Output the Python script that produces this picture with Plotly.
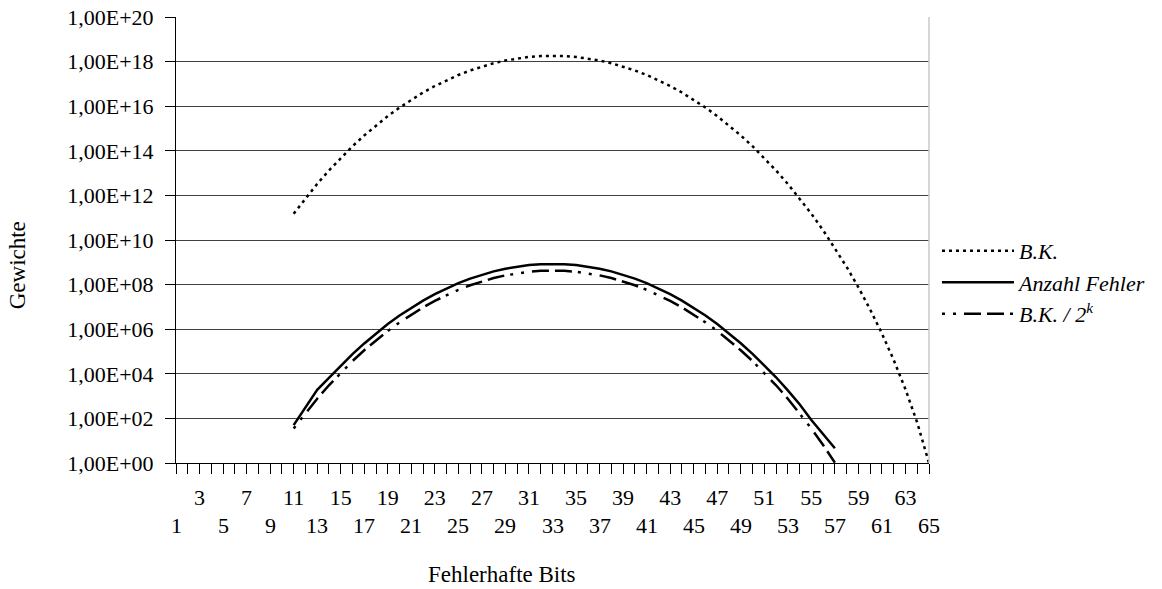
import plotly.graph_objects as go

# ---- data ----
x_bk = list(range(11, 66))
bk = [1.51e11, 7.44e11, 3.28e12, 1.31e13, 4.79e13, 1.60e14, 4.89e14, 1.38e15,
      3.60e15, 8.72e15, 1.96e16, 4.11e16, 8.03e16, 1.47e17, 2.51e17, 4.01e17,
      6.02e17, 8.47e17, 1.12e18, 1.39e18, 1.62e18, 1.78e18, 1.83e18, 1.78e18,
      1.62e18, 1.39e18, 1.12e18, 8.47e17, 6.02e17, 4.01e17, 2.51e17, 1.47e17,
      8.03e16, 4.11e16, 1.96e16, 8.72e15, 3.60e15, 1.38e15, 4.89e14, 1.60e14,
      4.79e13, 1.31e13, 3.28e12, 7.44e11, 1.51e11, 2.75e10, 4.43e9, 6.21e8,
      7.50e7, 7.62e6, 6.35e5, 4.17e4, 2016, 64, 1]

x_err = list(range(11, 58))
anzahl = [50, 320, 1900, 6500, 23000, 76000, 2.3e5, 6.5e5, 1.7e6, 4.1e6,
          9.2e6, 1.9e7, 3.7e7, 6.8e7, 1.16e8, 1.86e8, 2.78e8, 3.92e8, 5.18e8,
          6.43e8, 7.5e8, 8.22e8, 8.47e8, 8.22e8, 7.5e8, 6.43e8, 5.18e8, 3.92e8,
          2.78e8, 1.86e8, 1.16e8, 6.8e7, 3.7e7, 1.9e7, 9.2e6, 4.1e6, 1.7e6,
          6.5e5, 2.35e5, 7.8e4, 2.4e4, 7000, 1800, 430, 85, 20, 4.6]

bk_2k = [35.3, 173, 765, 3059, 11142, 37141, 1.14e5, 3.21e5, 8.39e5, 2.03e6,
         4.57e6, 9.57e6, 1.87e7, 3.42e7, 5.84e7, 9.34e7, 1.40e8, 1.97e8,
         2.60e8, 3.23e8, 3.77e8, 4.14e8, 4.27e8, 4.14e8, 3.77e8, 3.23e8,
         2.60e8, 1.97e8, 1.40e8, 9.34e7, 5.84e7, 3.42e7, 1.87e7, 9.57e6,
         4.57e6, 2.03e6, 8.39e5, 3.21e5, 1.14e5, 37141, 11142, 3059, 765,
         173, 35.3, 6.41, 1.03]

categories = list(range(1, 66))
upper_labels = [c for c in categories if c % 4 == 3]   # 3, 7, 11, ... 63
lower_labels = [c for c in categories if c % 4 == 1]   # 1, 5, 9, ... 65

y_exponents = [0, 2, 4, 6, 8, 10, 12, 14, 16, 18, 20]
y_tickvals = [10.0 ** e for e in y_exponents]
y_ticktext = ["1,00E+%02d" % e for e in y_exponents]

x_ticktext = [str(c) if c in upper_labels else " " for c in categories]

FONT = "Liberation Serif"

fig = go.Figure()
fig.add_trace(go.Scatter(x=x_bk, y=bk, mode="lines", name="B.K.",
                         line=dict(color="black", width=2.5, dash="3px,4px")))
fig.add_trace(go.Scatter(x=x_err, y=anzahl, mode="lines", name="Anzahl Fehler",
                         line=dict(color="black", width=2.5)))
fig.add_trace(go.Scatter(x=x_err, y=bk_2k, mode="lines", name="B.K. / 2<sup>k</sup>",
                         line=dict(color="black", width=2.5,
                                   dash="3px,8px,3px,8px,17px,6px,17px,6px")))

annotations = [
    dict(text="Fehlerhafte Bits", xref="paper", yref="paper", x=0.433, y=-0.251,
         showarrow=False, xanchor="center", yanchor="middle",
         font=dict(family=FONT, size=23)),
    dict(text="Gewichte", xref="paper", yref="paper", x=-0.210, y=0.443,
         showarrow=False, textangle=-90, xanchor="center", yanchor="middle",
         font=dict(family=FONT, size=23)),
]
# second (lower) row of category labels
for c in lower_labels:
    annotations.append(dict(text=str(c), x=c, xref="x", y=-0.141, yref="paper",
                            showarrow=False, xanchor="center", yanchor="middle",
                            font=dict(family=FONT, size=22)))

fig.update_layout(
    width=1162, height=589,
    margin=dict(l=176, r=233, t=17, b=126, autoexpand=False),
    paper_bgcolor="white", plot_bgcolor="white",
    font=dict(family=FONT, size=22, color="black"),
    showlegend=True,
    legend=dict(x=1.0106, y=0.405, xanchor="left", yanchor="middle",
                font=dict(family=FONT, size=22, color="black", style="italic"),
                itemwidth=72, tracegroupgap=0, bgcolor="rgba(0,0,0,0)"),
    xaxis=dict(range=[1, 65], tickmode="array", tickvals=categories,
               ticktext=x_ticktext, tickangle=0, ticks="outside", ticklen=10,
               tickcolor="black", showline=True, linecolor="black", linewidth=1,
               showgrid=False, zeroline=False, tickfont=dict(size=22),
               ticklabelstandoff=5, automargin=False),
    yaxis=dict(type="log", range=[0, 20], tickmode="array", tickvals=y_tickvals,
               ticktext=y_ticktext, ticks="outside", ticklen=10, tickcolor="black",
               showline=True, linecolor="black", linewidth=1,
               showgrid=True, gridcolor="#404040", gridwidth=1, zeroline=False,
               tickfont=dict(size=22), ticklabelstandoff=7, automargin=False),
    annotations=annotations,
    shapes=[dict(type="line", xref="paper", yref="paper", x0=1, x1=1, y0=0, y1=1,
                 line=dict(color="#c8c8c8", width=1.5))],
)

fig.write_html("out.html", config={"displayModeBar": False},
               post_script="document.body.style.margin='0';")
